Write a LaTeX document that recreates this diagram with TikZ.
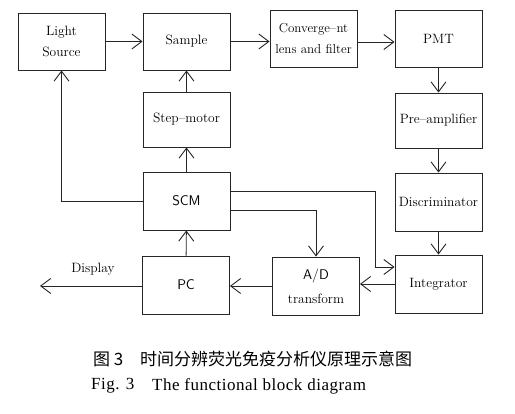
\documentclass[tikz,border=0pt]{standalone}
\usepackage{fontspec}
\newfontfamily\cjk{Noto Sans CJK SC}
\newfontfamily\capserif[LetterSpace=3]{Liberation Serif}
\usetikzlibrary{arrows.meta}
\begin{document}
\begin{tikzpicture}[x=1pt,y=-1pt,
  blk/.style={draw=black!85,line width=0.9pt,minimum width=87pt,minimum height=57pt,inner sep=1pt,align=center,font=\fontsize{13.5}{21.5}\selectfont},
  sblk/.style={blk,font=\fontsize{14}{23}\selectfont\sffamily},
  arr/.style={draw=black!85,line width=0.9pt,-{Straight Barb[length=10pt,width=15pt]}},
  ln/.style={draw=black!85,line width=0.9pt}]
\useasboundingbox (0,0) rectangle (515,414);
\fill[white] (0,0) rectangle (515,414);
% boxes
\node[blk] (light) at (61.5,41.5) {Light\\Source};
\node[blk] (sample) at (186.5,41.5) {Sample};
\node[blk,font=\fontsize{13}{21.5}\selectfont] (conv) at (313.5,38.5) {Converge--nt\\lens and filter};
\node[blk] (pmt) at (438.5,38.5) {PMT};
\node[blk,minimum height=55pt] (step) at (186.5,119.5) {Step--motor};
\node[blk,minimum height=55pt] (pre) at (438.5,120.5) {Pre--amplifier};
\node[blk,minimum height=58pt] (disc) at (438.5,202) {Discriminator};
\node[sblk,minimum height=58pt] (scm) at (186.5,201) {SCM};
\node[blk,minimum height=58pt] (integ) at (438.5,284) {Integrator};
\node[blk,minimum height=58pt,font=\fontsize{13.5}{24}\selectfont] (ad) at (316,286) {\fontsize{14}{24}\selectfont\sffamily A/D\\transform};
\node[sblk,minimum height=58pt] (pc) at (186,285) {PC};
% connectors
\draw[arr] (light) -- (sample);
\draw[arr] (sample.east) -- (sample.east -| conv.west);
\draw[arr] ([yshift=-3.5pt]conv.east) -- ([yshift=-3.5pt]pmt.west);
\draw[arr] (pmt) -- (pre);
\draw[arr] (pre) -- (disc);
\draw[arr] (disc) -- (integ);
\draw[arr] (step) -- (sample);
\draw[arr] (scm) -- (step);
\draw[arr] (pc) -- (scm);
\draw[arr] (scm.west) -| (light.south);
\coordinate (c1) at (375,267);
\draw[arr] ([yshift=10pt]scm.east) -| (c1) -- (c1 -| integ.west);
\draw[arr] ([yshift=-9pt]scm.east) -| (ad.north);
\draw[arr] (integ.west) -- (integ.west -| ad.east);
\draw[arr] (ad.west) -- (ad.west -| pc.east);
\coordinate (disp) at (40,286);
\draw[arr] (pc.west |- disp) -- (disp);
\node[font=\fontsize{13.5}{15}\selectfont] (displbl) at (93,269) {Display};
% captions
\node[anchor=west,inner sep=0pt,font=\cjk\fontsize{17}{20}\selectfont] (cap1a) at (93,359) {图 3};
\node[anchor=west,inner sep=0pt,font=\cjk\fontsize{17}{20}\selectfont] (cap1b) at (140,359) {时间分辨荧光免疫分析仪原理示意图};
\node[anchor=west,inner sep=0pt,font=\capserif\fontsize{17}{20}\selectfont] (cap2a) at (91,386) {Fig. 3};
\node[anchor=west,inner sep=0pt,font=\capserif\fontsize{17}{20}\selectfont] (cap2b) at (152,386) {The functional block diagram};
\end{tikzpicture}
\end{document}
